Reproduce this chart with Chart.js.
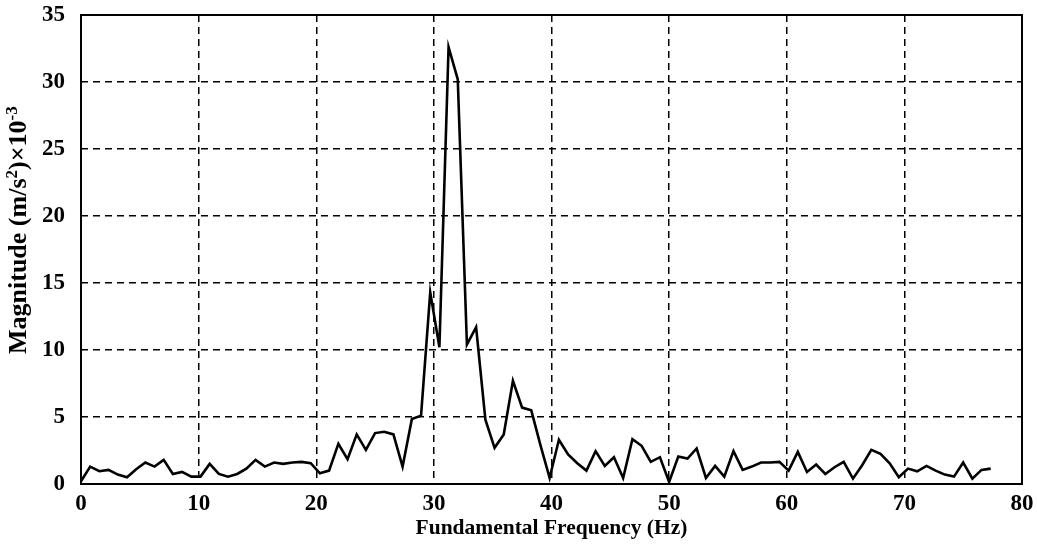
<!DOCTYPE html>
<html>
<head>
<meta charset="utf-8">
<script src="https://cdn.jsdelivr.net/npm/chart.js@4/dist/chart.umd.min.js"></script>
<style>
  body { margin: 0; background: #fff; }
</style>
</head>
<body>
<canvas id="fftChart" width="1037" height="552"></canvas>
<script>
// frequency bins (Hz)
const freqs = [
  0, 0.78, 1.56, 2.34, 3.13, 3.91, 4.69, 5.47, 6.25, 7.03,
  7.81, 8.59, 9.38, 10.16, 10.94, 11.72, 12.5, 13.28, 14.06, 14.84,
  15.63, 16.41, 17.19, 17.97, 18.75, 19.53, 20.31, 21.09, 21.88, 22.66,
  23.44, 24.22, 25, 25.78, 26.56, 27.34, 28.13, 28.91, 29.69, 30.47,
  31.25, 32.03, 32.81, 33.59, 34.38, 35.16, 35.94, 36.72, 37.5, 38.28,
  39.06, 39.84, 40.63, 41.41, 42.19, 42.97, 43.75, 44.53, 45.31, 46.09,
  46.88, 47.66, 48.44, 49.22, 50, 50.78, 51.56, 52.34, 53.13, 53.91,
  54.69, 55.47, 56.25, 57.03, 57.81, 58.59, 59.38, 60.16, 60.94, 61.72,
  62.5, 63.28, 64.06, 64.84, 65.63, 66.41, 67.19, 67.97, 68.75, 69.53,
  70.31, 71.09, 71.88, 72.66, 73.44, 74.22, 75, 75.78, 76.56, 77.34
];

// magnitude (m/s^2) x 10^-3
const magnitude = [
  0.2, 1.3, 0.95, 1.05, 0.7, 0.5, 1.1, 1.6, 1.3, 1.8,
  0.75, 0.9, 0.55, 0.55, 1.5, 0.75, 0.55, 0.75, 1.15, 1.8,
  1.3, 1.6, 1.5, 1.6, 1.65, 1.55, 0.8, 1.0, 3.0, 1.85,
  3.7, 2.55, 3.8, 3.9, 3.7, 1.3, 4.85, 5.1, 14.3, 10.2,
  32.6, 30.2, 10.4, 11.7, 4.8, 2.7, 3.7, 7.7, 5.7, 5.5,
  2.9, 0.45, 3.3, 2.2, 1.55, 1.0, 2.45, 1.35, 2.0, 0.45,
  3.35, 2.85, 1.65, 2.0, 0.15, 2.05, 1.9, 2.65, 0.45, 1.35,
  0.55, 2.45, 1.05, 1.3, 1.6, 1.6, 1.65, 1.0, 2.4, 0.9,
  1.45, 0.75, 1.25, 1.65, 0.4, 1.4, 2.55, 2.25, 1.55, 0.5,
  1.15, 0.95, 1.35, 1.0, 0.7, 0.55, 1.6, 0.4, 1.05, 1.15
];

const xTicks = [0, 10, 20, 30, 40, 50, 60, 70, 80];
const yTicks = [0, 5, 10, 15, 20, 25, 30, 35];

const serif = '"Liberation Serif", "Times New Roman", serif';

// marco negro alrededor del area de trazado
const framePlugin = {
  id: 'frame',
  afterDraw(chart) {
    const a = chart.chartArea;
    const ctx = chart.ctx;
    ctx.save();
    ctx.strokeStyle = '#000';
    ctx.lineWidth = 2;
    ctx.strokeRect(a.left, a.top, a.right - a.left, a.bottom - a.top);
    ctx.restore();
  }
};

// titulo del eje Y con superindices de verdad
const yTitleParts = [
  { text: 'Magnitude (m/s', sup: false },
  { text: '2', sup: true },
  { text: ')\u00d710', sup: false },
  { text: '-3', sup: true }
];
const yTitlePlugin = {
  id: 'yTitle',
  afterDraw(chart) {
    const ctx = chart.ctx;
    const base = 'bold 26px ' + serif;
    const small = 'bold 17px ' + serif;
    ctx.save();
    ctx.translate(19, 354);
    ctx.rotate(-Math.PI / 2);
    ctx.fillStyle = '#000';
    ctx.textBaseline = 'middle';
    ctx.textAlign = 'left';
    let x = 0;
    yTitleParts.forEach(p => {
      ctx.font = p.sup ? small : base;
      ctx.fillText(p.text, x, p.sup ? -6 : 0);
      x += ctx.measureText(p.text).width;
    });
    ctx.restore();
  }
};

const points = freqs.map((f, i) => ({ x: f, y: magnitude[i] }));

const ctx = document.getElementById('fftChart').getContext('2d');
new Chart(ctx, {
  type: 'scatter',
  data: {
    datasets: [{
      data: points,
      showLine: true,
      borderColor: '#000',
      borderWidth: 2.6,
      pointRadius: 0,
      tension: 0
    }]
  },
  options: {
    responsive: false,
    animation: false,
    layout: { padding: { top: 15, right: 15, left: 0, bottom: 0 } },
    plugins: { legend: { display: false }, tooltip: { enabled: false } },
    scales: {
      x: {
        type: 'linear',
        min: xTicks[0],
        max: xTicks[xTicks.length - 1],
        afterBuildTicks: s => { s.ticks = xTicks.map(v => ({ value: v })); },
        afterFit: s => { s.height = 68; s.paddingLeft = 0; s.paddingRight = 0; },
        grid: { color: '#000', lineWidth: 1.5, drawTicks: false },
        border: { display: false, dash: [7, 5] },
        ticks: { color: '#000', padding: 6, font: { family: serif, size: 23, weight: 'bold' } },
        title: {
          display: true,
          text: 'Fundamental Frequency (Hz)',
          color: '#000',
          padding: 11,
          font: { family: serif, size: 21.5, weight: 'bold' }
        }
      },
      y: {
        min: yTicks[0],
        max: yTicks[yTicks.length - 1],
        afterBuildTicks: s => { s.ticks = yTicks.map(v => ({ value: v })); },
        afterFit: s => { s.width = 81; s.paddingTop = 0; s.paddingBottom = 0; },
        grid: { color: '#000', lineWidth: 1.5, drawTicks: false },
        border: { display: false, dash: [7, 5] },
        ticks: { color: '#000', padding: 16, font: { family: serif, size: 23, weight: 'bold' } },
        title: { display: false }
      }
    }
  },
  plugins: [framePlugin, yTitlePlugin]
});
</script>
</body>
</html>
